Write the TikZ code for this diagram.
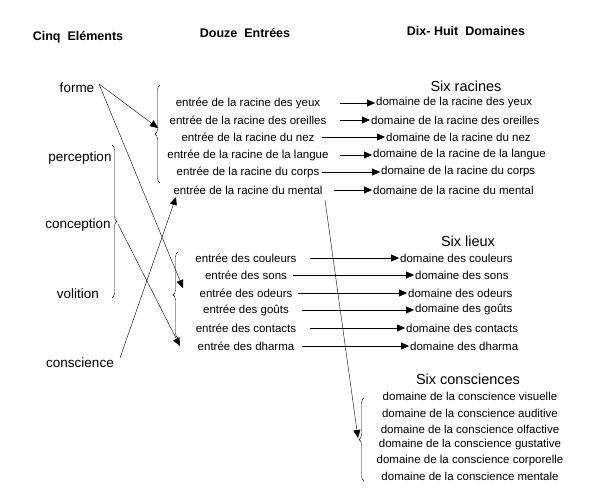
\documentclass[tikz,border=0pt]{standalone}
\usepackage{fontspec}
\setmainfont{Liberation Sans}
\usetikzlibrary{arrows.meta,decorations.pathreplacing}
\begin{document}
\begin{tikzpicture}[x=1pt,y=-1pt,
  txt/.style={font=\fontsize{11.5}{13}\selectfont,inner sep=1pt},
  big/.style={font=\fontsize{13.5}{15}\selectfont,inner sep=1pt},
  hd/.style={font=\bfseries\fontsize{12.5}{14}\selectfont,inner sep=1pt},
  sub/.style={font=\fontsize{14.5}{16}\selectfont,inner sep=1pt},
  arr/.style={-{Triangle[length=8pt,width=7pt]},thin},
  br/.style={decorate,decoration={brace,amplitude=5pt},thin}]
\useasboundingbox (0,0) rectangle (613,500);
\node[hd] (h1) at (78,37) {Cinq\ \ Eléments};
\node[hd] (h2) at (245,33) {Douze\ \ Entrées};
\node[hd] (h3) at (466,31) {Dix- Huit\ \ Domaines};
\node[big] (forme) at (77,88) {forme};
\node[big] (perc) at (80,158) {perception};
\node[big] (conc) at (78,225) {conception};
\node[big] (voli) at (78,294) {volition};
\node[big] (consc) at (80,363) {conscience};
\draw[br] (112,145) -- (112,298);
\coordinate (ctip) at (118,224);
\node[sub] (sr) at (466,86) {Six racines};
\node[sub] (sl) at (468,241) {Six lieux};
\node[sub] (sc) at (468,379) {Six consciences};
% racines
\foreach \i/\y/\e/\d/\a/\b in {
 1/103/entrée de la racine des yeux/domaine de la racine des yeux/340/375,
 2/120/entrée de la racine des oreilles/domaine de la racine des oreilles/340/370,
 3/137/entrée de la racine du nez/domaine de la racine du nez/322/385,
 4/155/entrée de la racine de la langue/domaine de la racine de la langue/340/372,
 5/172/entrée de la racine du corps/domaine de la racine du corps/322/380,
 6/190/entrée de la racine du mental/domaine de la racine du mental/334/372}{
 \node[txt] (e\i) at (248,\y) {\e};
 \node[txt,anchor=west] (d\i) at (\b,\y) {\d};
 \draw[arr] (\a,\y) -- (d\i.west);
}
\draw[br] (160,183) -- (160,85);
% lieux
\foreach \i/\y/\e/\d/\a/\b in {
 1/258/entrée des couleurs/domaine des couleurs/310/399,
 2/275/entrée des sons/domaine des sons/293/414,
 3/293/entrée des odeurs/domaine des odeurs/298/407,
 4/310/entrée des goûts/domaine des goûts/302/414,
 5/328/entrée des contacts/domaine des contacts/310/405,
 6/346/entrée des dharma/domaine des dharma/302/409}{
 \node[txt] (l\i) at (246,\y) {\e};
 \node[txt,anchor=west] (m\i) at (\b,\y) {\d};
 \draw[arr] (\a,\y) -- (m\i.west);
}
\draw[br] (178,338) -- (178,252);
% consciences
\foreach \i/\y/\d in {1/396/visuelle,2/413/auditive,3/429/olfactive,4/445/gustative,5/461/corporelle,6/476/mentale}{
 \node[txt] (c\i) at (470,\y) {domaine de la conscience \d};
}
\draw[br] (364,481) -- (364,398);
% crossing arrows
\coordinate (f1) at (99,84);
\coordinate (f2) at (158,128);
\coordinate (f3) at (183,288);
\coordinate (k1) at (120,358);
\coordinate (k2) at (176,197);
\coordinate (c0) at (180,346);
\coordinate (m0) at (325,200);
\coordinate (m1) at (358,438);
\draw[arr] (f1) -- (f2);
\draw[arr] (f1) -- (f3);
\draw[arr] (k1) -- (k2);
\draw[arr] (ctip) -- (c0);
\draw[arr] (m0) -- (m1);
\end{tikzpicture}
\end{document}
